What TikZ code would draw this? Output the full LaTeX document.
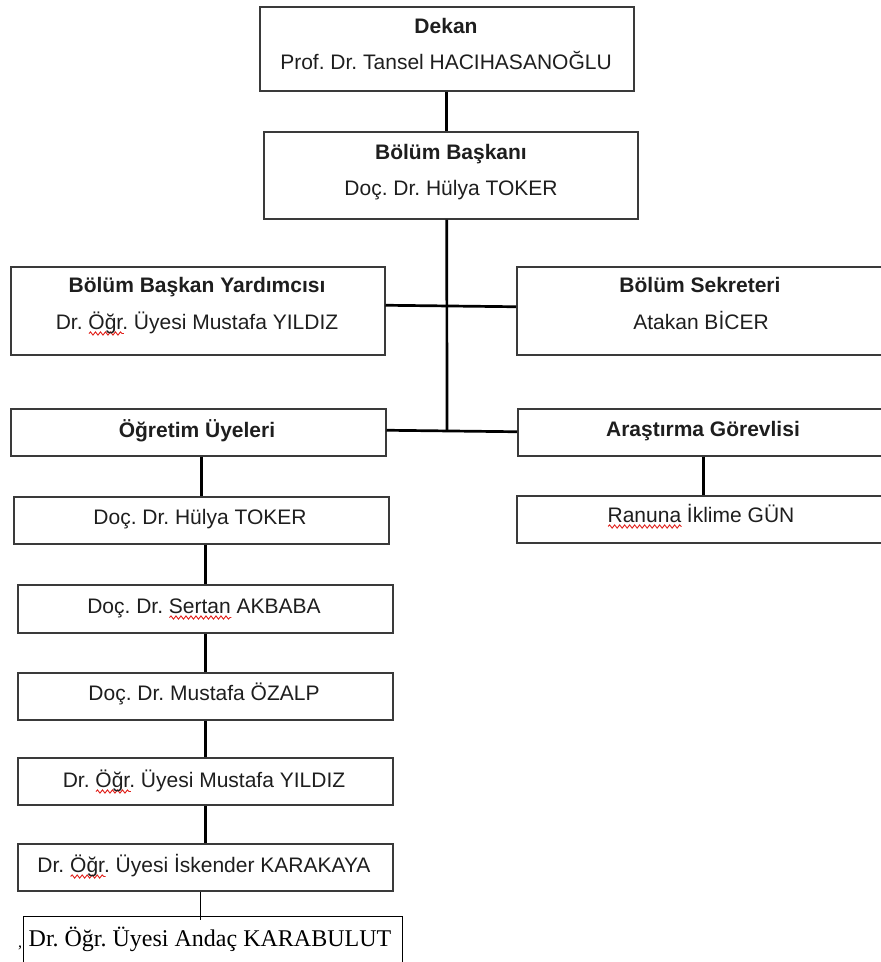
\documentclass[tikz,border=0pt]{standalone}
\usepackage{fontspec}
\setmainfont{Liberation Sans}
\newfontfamily\timesfont{Liberation Serif}
\usetikzlibrary{calc,decorations.pathmorphing}
\frenchspacing
\definecolor{boxgray}{HTML}{3A3A3A}
\definecolor{txt}{HTML}{1E1E1E}
\definecolor{wavered}{HTML}{E0201A}
\newlength\rwl
\newcommand\rwave[1]{\settowidth\rwl{#1}\rlap{\tikz[baseline=0pt]{\path (0pt,0pt);\draw[wavered, line width=0.9pt, decorate, decoration={snake, amplitude=1.6pt, segment length=5pt}] (0pt,-4.5pt) -- (\rwl,-4.5pt);}}#1}
\newcommand\fs{\fontsize{21}{24}\selectfont}
\begin{document}
\begin{tikzpicture}[x=1pt,y=1pt,
  box/.style={draw=boxgray, line width=1.5pt, rectangle, inner sep=0pt, anchor=north west},
  thinbox/.style={draw=black, line width=1pt},
  conn/.style={draw=black, line width=2.7pt},
  thinconn/.style={draw=black, line width=1pt},
  lbl/.style={anchor=base, inner sep=0pt, text=txt, font=\fs},
  hd/.style={lbl, font=\fs\bfseries}]
\useasboundingbox (0,0) rectangle (881,-962);
% boxes
\node[box, minimum width=374pt, minimum height=84pt] (dekan) at (259,-6) {};
\node[box, minimum width=374pt, minimum height=87pt] (baskan) at (263,-131) {};
\node[box, minimum width=374pt, minimum height=88pt] (yard) at (10,-266) {};
\node[box, minimum width=379pt, minimum height=88pt] (sek) at (516,-266) {};
\node[box, minimum width=375pt, minimum height=47pt] (ogr) at (10,-408) {};
\node[box, minimum width=378pt, minimum height=47pt] (ara) at (517,-408) {};
\node[box, minimum width=379pt, minimum height=47pt] (ranuna) at (516,-495) {};
\node[box, minimum width=375pt, minimum height=47pt] (hulya) at (13,-496) {};
\node[box, minimum width=375pt, minimum height=48pt] (sertan) at (17,-584) {};
\node[box, minimum width=375pt, minimum height=47pt] (ozalp) at (17,-672) {};
\node[box, minimum width=375pt, minimum height=47pt] (yildiz) at (17,-757) {};
\node[box, minimum width=375pt, minimum height=47pt] (isk) at (17,-843) {};
\node[box, thinbox, minimum width=379pt, minimum height=80pt] (andac) at (23,-916) {};
% texts
\node[hd] (t1) at (446,-33) {Dekan};
\node[lbl] (t2) at (446,-69) {Prof. Dr. Tansel HACIHASANOĞLU};
\node[hd] (t3) at (451,-159) {Bölüm Başkanı};
\node[lbl] (t4) at (451,-195) {Doç. Dr. Hülya TOKER};
\node[hd] (t5) at (197,-292) {Bölüm Başkan Yardımcısı};
\node[lbl] (t6) at (197,-329) {Dr. \rwave{Öğr}. Üyesi Mustafa YILDIZ};
\node[hd] (t7) at (700,-292) {Bölüm Sekreteri};
\node[lbl] (t8) at (701,-329) {Atakan BİCER};
\node[hd] (t9) at (197,-437) {Öğretim Üyeleri};
\node[hd] (t10) at (703,-436) {Araştırma Görevlisi};
\node[lbl] (t11) at (701,-522) {\rwave{Ranuna} İklime GÜN};
\node[lbl] (t12) at (200,-524) {Doç. Dr. Hülya TOKER};
\node[lbl] (t13) at (204,-613) {Doç. Dr. \rwave{Sertan} AKBABA};
\node[lbl] (t14) at (204,-700) {Doç. Dr. Mustafa ÖZALP};
\node[lbl] (t15) at (204,-787) {Dr. \rwave{Öğr}. Üyesi Mustafa YILDIZ};
\node[lbl] (t16) at (204,-872) {Dr. \rwave{Öğr}. Üyesi İskender KARAKAYA};
\node[anchor=base, inner sep=0pt, text=black, font=\timesfont\fontsize{24}{28}\selectfont] (t17) at (210,-946) {Dr. Öğr. Üyesi Andaç KARABULUT};
\node[anchor=base, inner sep=0pt, text=black, font=\timesfont\fontsize{16}{18}\selectfont] (t18) at (20,-947) {,};
% connectors
\draw[conn] (dekan.south) -- (dekan.south |- baskan.north);
\coordinate (jbot) at (447,-430);
\draw[conn] (dekan.south |- baskan.south) -- (jbot);
\draw[conn] ($(yard.east)+(0,5.5)$) -- ($(sek.west)+(0,4)$);
\draw[conn] ($(ogr.east)+(0,2)$) -- ($(ara.west)+(0,0.5)$);
\draw[conn] ($(ogr.south)+(3.5,0)$) -- ($(ogr.south |- hulya.north)+(3.5,0)$);
\draw[conn] (sertan.north |- hulya.south) -- (sertan.north);
\draw[conn] (sertan.south) -- (ozalp.north);
\draw[conn] (ozalp.south) -- (yildiz.north);
\draw[conn] (yildiz.south) -- (isk.north);
\draw[conn] ($(ara.south)+(-3,0)$) -- ($(ara.south |- ranuna.north)+(-3,0)$);
\draw[thinconn] ($(isk.south)+(-4.5,0)$) -- ($(isk.south |- andac.north)+(-4.5,-4)$);
\end{tikzpicture}
\end{document}
